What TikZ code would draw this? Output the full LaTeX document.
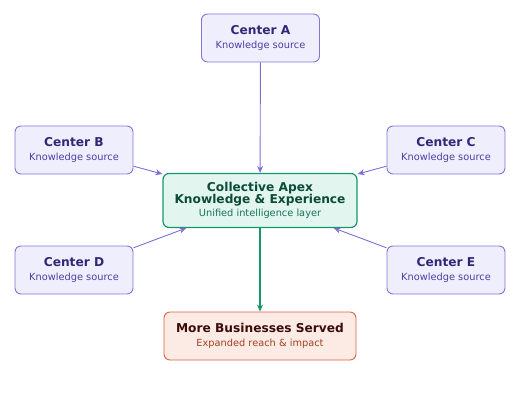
\documentclass[tikz,border=0pt]{standalone}
\usepackage{fontspec}
\setmainfont{DejaVu Sans}
\usetikzlibrary{arrows.meta}

\definecolor{srcfill}{HTML}{EEEEFC}
\definecolor{srcline}{HTML}{8474DC}
\definecolor{srctext}{HTML}{2F2878}
\definecolor{srcsub}{HTML}{4B3FA6}
\definecolor{apexfill}{HTML}{E2F5EE}
\definecolor{apexline}{HTML}{17966A}
\definecolor{apextext}{HTML}{0B4B38}
\definecolor{apexsub}{HTML}{16735A}
\definecolor{outfill}{HTML}{FCEBE5}
\definecolor{outline}{HTML}{D9633D}
\definecolor{outtext}{HTML}{3B0B0B}
\definecolor{outsub}{HTML}{A3411F}
\definecolor{srcarrow}{HTML}{7B6FD8}

\newcommand{\boxtitle}[1]{{\fontsize{12.2}{15}\selectfont\bfseries #1}}
\newcommand{\boxsub}[1]{{\fontsize{9.8}{12}\selectfont #1}}

\begin{document}
\begin{tikzpicture}[x=1pt, y=-1pt,
  source node/.style={draw=srcline, fill=srcfill, rounded corners=6pt, line width=0.9pt,
    minimum width=118pt, minimum height=48pt, align=center, text=srctext, inner sep=0pt},
  apex node/.style={draw=apexline, fill=apexfill, rounded corners=6pt, line width=1.2pt,
    minimum width=194pt, minimum height=54pt, align=center, text=apextext, inner sep=0pt},
  result node/.style={draw=outline, fill=outfill, rounded corners=6pt, line width=0.9pt,
    minimum width=192pt, minimum height=48pt, align=center, text=outtext, inner sep=0pt}]

  \useasboundingbox (0,0) rectangle (520,420);

  \node[source node] (ca) at (260.5,38) {\boxtitle{Center A}\\[2.5pt]{\color{srcsub}\boxsub{Knowledge source}}};
  \node[source node] (cb) at (74,150) {\boxtitle{Center B}\\[2.5pt]{\color{srcsub}\boxsub{Knowledge source}}};
  \node[source node] (cc) at (446,150) {\boxtitle{Center C}\\[2.5pt]{\color{srcsub}\boxsub{Knowledge source}}};
  \node[source node] (cd) at (74,270) {\boxtitle{Center D}\\[2.5pt]{\color{srcsub}\boxsub{Knowledge source}}};
  \node[source node] (ce) at (446,270) {\boxtitle{Center E}\\[2.5pt]{\color{srcsub}\boxsub{Knowledge source}}};

  \node[apex node] (apex) at (260,200.5) {\boxtitle{Collective Apex}\\[0pt]\boxtitle{Knowledge \& Experience}\\[1.5pt]{\color{apexsub}\boxsub{Unified intelligence layer}}};

  \node[result node] (more) at (260,336) {\boxtitle{More Businesses Served}\\[2.5pt]{\color{outsub}\boxsub{Expanded reach \& impact}}};

 \path[] (ca) [-{Stealth[length=7pt,width=6pt]},srcarrow,line width=0.9pt] edge node [] {} (apex);
 \path[] (cb) [-{Stealth[length=7pt,width=6pt]},srcarrow,line width=0.9pt] edge node [] {} (apex);
 \path[] (cc) [-{Stealth[length=7pt,width=6pt]},srcarrow,line width=0.9pt] edge node [] {} (apex);
 \path[] (cd) [-{Stealth[length=7pt,width=6pt]},srcarrow,line width=0.9pt] edge node [] {} (apex);
 \path[] (ce) [-{Stealth[length=7pt,width=6pt]},srcarrow,line width=0.9pt] edge node [] {} (apex);

 \path[] (apex) [-{Stealth[length=7pt,width=6pt]},apexline,line width=1.2pt] edge node [] {} (more);
\end{tikzpicture}
\end{document}
